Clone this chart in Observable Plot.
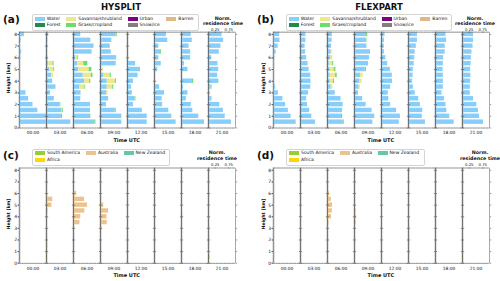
<!DOCTYPE html>
<html><head><meta charset="utf-8">
<script src="https://cdn.jsdelivr.net/npm/d3@7"></script>
<script src="https://cdn.jsdelivr.net/npm/@observablehq/plot@0.6"></script>
<style>
body{margin:0;background:#fff;}
#fig{position:relative;width:500px;height:281px;overflow:hidden;font-family:"DejaVu Sans",sans-serif;color:#111;}
.abs{position:absolute;white-space:nowrap;line-height:1;}
.box{position:absolute;border:0.6px solid #d4d4d4;border-radius:2px;background:#fff;}
.sw{position:absolute;width:10px;height:3.7px;}
svg{position:absolute;}
</style></head><body><div id="fig"></div>
<script>
const times = ["00:00","03:00","06:00","09:00","12:00","15:00","18:00","21:00"];
const heights = [0.5,1,1.5,2,2.5,3,3.5,4,4.5,5,5.5,6,6.5,7,7.5,8];
const yTicks = [0,1,2,3,4,5,6,7,8];
const normTicks = [0.25,0.75];

const landTypes = ["Water","Forest","Savanna/shrubland","Grass/cropland","Urban","Snow/ice","Barren"];
const landColors = ["#87cefa","#1f8a4c","#f0e68c","#6cdc6c","#800080","#808080","#deb887"];
const regionNames = ["South America","Africa","Australia","New Zealand"];
const regionColors = ["#9acd32","#ffd700","#ebc38e","#66c7a3"];

// HYSPLIT water, one array per time, heights 0.5 -> 8 km
const hysplitWater = [
  [1.0,1.0,0.68,0.5,0.34,0.24,0,0,0,0,0,0.05,0.08,0,0.06,0.18],
  [0.9,0.55,0.56,0.5,0.29,0.15,0.35,0.23,0.2,0.12,0.08,0.03,0.04,0.04,0.05,0.08],
  [0.79,0.6,0.63,0.63,0.27,0.28,0.24,0.42,0.36,0.2,0.16,0.08,0.69,0.76,0.64,0.27],
  [0.79,0.79,0.55,0.22,0.3,0.23,0.25,0.25,0.13,0.04,0.58,0.6,0.4,0.36,0.42,0.58],
  [0.73,0.73,0.55,0.22,0.28,0.18,0.15,0.22,0.39,0.48,0.3,0,0,0,0,0],
  [0.8,0.64,0.53,0.3,0.28,0.37,0.19,0,0,0.12,0.25,0.16,0.23,0.16,0.49,0.44],
  [0.85,0.64,0.42,0.36,0.18,0.24,0.07,0.4,0,0.24,0.11,0.34,0.34,0.28,0.4,0.36],
  [0.85,0.62,0.55,0.42,0.13,0,0.1,0.34,0.34,0.38,0.35,0.12,0.4,0.46,0.56,0.5]
];
// [time, height km, value]
const hysplitSavanna = [
  ["03:00",1.5,0.02],["03:00",4.5,0.06],["03:00",5,0.15],["03:00",5.5,0.16],
  ["06:00",3.5,0.18],["06:00",4,0.18],["06:00",4.5,0.3],["06:00",5,0.38],["06:00",5.5,0.22],["06:00",6,0.08],
  ["09:00",3,0.05],["09:00",3.5,0.2],["09:00",4,0.3],["09:00",4.5,0.23],["09:00",5,0.06]
];
const hysplitGrass = [
  ["03:00",1,0.04],["03:00",1.5,0.04],["03:00",2,0.03],["03:00",5,0.03],["03:00",5.5,0.04],["03:00",6,0.02],
  ["06:00",0.5,0.04],["06:00",1,0.04],["06:00",3.5,0.03],["06:00",4,0.04],["06:00",4.5,0.06],["06:00",5,0.1],["06:00",5.5,0.15],["06:00",6,0.03],
  ["09:00",1.5,0.03],["09:00",3.5,0.04],["09:00",4,0.04],["09:00",4.5,0.04],["09:00",8,0.04],
  ["12:00",2.5,0.03],["15:00",6.5,0.03],["18:00",4,0.05],["21:00",3.5,0.03],["21:00",4,0.04]
];

const flexpartWater = [
  [0.84,0.65,0.55,0.45,0.35,0.18,0.08,0.03,0,0,0,0.05,0.1,0.17,0.24,0.23],
  [0.56,0.42,0.34,0.26,0.23,0.3,0.38,0.39,0.38,0.32,0.28,0.23,0.19,0.17,0.2,0.2],
  [0.58,0.52,0.56,0.58,0.5,0.29,0.14,0.1,0.1,0.1,0.07,0.11,0.14,0.15,0.17,0.18],
  [0.68,0.75,0.65,0.43,0.3,0.15,0.17,0.2,0.22,0.4,0.52,0.56,0.56,0.46,0.42,0.45],
  [0.66,0.7,0.56,0.34,0.27,0.25,0.34,0.41,0.4,0.33,0.23,0.16,0.11,0.1,0.11,0.13],
  [0.63,0.51,0.53,0.44,0.38,0.25,0.18,0.15,0.17,0.18,0.21,0.23,0.25,0.29,0.33,0.33],
  [0.69,0.53,0.42,0.39,0.33,0.24,0.29,0.29,0.29,0.28,0.29,0.3,0.36,0.36,0.41,0.39],
  [0.78,0.63,0.59,0.53,0.41,0.29,0.29,0.3,0.31,0.3,0.32,0.33,0.35,0.39,0.41,0.41]
];
const flexpartSavanna = [
  ["03:00",5.5,0.03],["06:00",3.5,0.06],["06:00",4,0.12],["06:00",4.5,0.2],["06:00",5,0.15],["06:00",5.5,0.12],["06:00",6,0.08],["06:00",6.5,0.03],
  ["09:00",3.5,0.05],["09:00",4,0.08],["09:00",4.5,0.1]
];
const flexpartGrass = [
  ["06:00",0.5,0.04],["06:00",1,0.04],["06:00",4,0.04],["06:00",4.5,0.06],["06:00",5,0.06],["06:00",5.5,0.04],
  ["09:00",5,0.04],["09:00",6.5,0.03],["09:00",7.5,0.04],["09:00",8,0.04]
];

const hysplitSouthAmerica = [["00:00",0.5,0.02],["03:00",0.5,0.03],["03:00",1,0.02],["18:00",4,0.04],["21:00",0.5,0.05]];
const hysplitAustralia = [
  ["03:00",1.5,0.05],["03:00",4.5,0.06],["03:00",5,0.2],["03:00",5.5,0.23],
  ["06:00",3.5,0.24],["06:00",4,0.27],["06:00",4.5,0.42],["06:00",5,0.52],["06:00",5.5,0.41],["06:00",6,0.12],
  ["09:00",3,0.06],["09:00",3.5,0.25],["09:00",4,0.24],["09:00",4.5,0.3],["09:00",5,0.12]
];
const hysplitNewZealand = [["09:00",7.5,0.02]];
const flexpartSouthAmerica = [["09:00",8,0.02],["21:00",0.5,0.03]];
const flexpartAustralia = [
  ["06:00",3.5,0.06],["06:00",4,0.15],["06:00",4.5,0.18],["06:00",5,0.19],["06:00",5.5,0.14],["06:00",6,0.08],["06:00",6.5,0.04],
  ["09:00",3,0.02],["09:00",3.5,0.07],["09:00",4,0.08],["09:00",4.5,0.07]
];
const flexpartNewZealand = [["09:00",7.5,0.02]];

const HALF = 0.19, Y_TOP = 8.2;
function denseRows(arr, cat) {
  const out = [];
  arr.forEach((col, i) => col.forEach((v, j) => { if (v > 0) out.push({t: times[i], lo: heights[j] - HALF, hi: heights[j] + HALF, c: cat, v}); }));
  return out;
}
function sparseRows(arr, cat) {
  return arr.map(([t, h, v]) => ({t, lo: h - HALF, hi: h + HALF, c: cat, v}));
}

const fig = document.getElementById("fig");

function panel(rows, cats, colors, o) {
  const svg = Plot.plot({
    width: 250, height: o.h,
    marginLeft: 16.7, marginRight: 13.3, marginTop: o.mt, marginBottom: o.mb,
    style: {fontFamily: "'DejaVu Sans', sans-serif", background: "transparent", overflow: "visible", color: "#111"},
    x: {domain: [0, 1], axis: null},
    y: {domain: [0, Y_TOP], axis: null},
    fx: {domain: times, padding: 0, axis: null, label: null},
    color: {domain: cats, range: colors},
    marks: [
      // spine halo at the zero origin of every time facet
      Plot.ruleX(times, {fx: (d) => d, x: () => 0, stroke: "#d0d0d0", strokeWidth: 2.2}),
      Plot.rectX(rows, Plot.stackX({x: "v", y1: "lo", y2: "hi", fx: "t", fill: "c"})),
      Plot.ruleY([0, Y_TOP], {stroke: "#aaa", strokeWidth: 1.1, strokeDasharray: "0.5,1.1"}),
      Plot.frame({stroke: "#555", strokeWidth: 0.5}),
      Plot.axisY({ticks: yTicks, tickSize: 1.5, tickPadding: 0.8, fontSize: 4.5, label: null, tickFormat: d3.format("d"), strokeWidth: 0.5}),
      Plot.axisY({ticks: yTicks, tickSize: 1.2, tickFormat: () => "", label: null, facetAnchor: null, strokeWidth: 0.5, stroke: "#333"}),
      Plot.axisY({anchor: "right", ticks: yTicks, tickSize: 1.2, tickFormat: () => "", label: null, facetAnchor: null, strokeWidth: 0.5, stroke: "#333"}),
      Plot.axisFx({anchor: "bottom", tickSize: 0, tickPadding: 3.2, fontSize: 4.4, label: null}),
      Plot.axisX(normTicks, {anchor: "top", fx: () => times[times.length - 1], tickSize: 1, tickPadding: 0.6, fontSize: 3.8, label: null, tickFormat: d3.format(".2f"), strokeWidth: 0.5})
    ]
  });
  svg.style.left = o.left + "px";
  svg.style.top = o.top + "px";
  fig.appendChild(svg);
}

function txt(s, x, y, size, o = {}) {
  const d = document.createElement("div");
  d.className = "abs";
  d.textContent = s;
  d.style.left = x + "px";
  d.style.top = y + "px";
  d.style.fontSize = size + "px";
  if (o.bold) d.style.fontWeight = "bold";
  const ax = o.anchor === "start" ? "0" : "-50%";
  d.style.transform = `translate(${ax},-50%)` + (o.rotate ? ` rotate(${o.rotate}deg)` : "");
  fig.appendChild(d);
}

function legend(x, y, w, h, names, colors, cols, rows, colOffsets, rowYs) {
  const b = document.createElement("div");
  b.className = "box";
  b.style.left = x + "px"; b.style.top = y + "px"; b.style.width = w + "px"; b.style.height = h + "px";
  fig.appendChild(b);
  names.forEach((n, i) => {
    const cx = x + colOffsets[cols[i]], cy = rowYs[rows[i]];
    const s = document.createElement("div");
    s.className = "sw";
    s.style.left = cx + "px"; s.style.top = (cy - 1.85) + "px"; s.style.background = colors[i];
    fig.appendChild(s);
    txt(n, cx + 12, cy, 4.5, {anchor: "start"});
  });
}

const hyRows = [...denseRows(hysplitWater, "Water"), ...sparseRows(hysplitSavanna, "Savanna/shrubland"), ...sparseRows(hysplitGrass, "Grass/cropland")];
const flRows = [...denseRows(flexpartWater, "Water"), ...sparseRows(flexpartSavanna, "Savanna/shrubland"), ...sparseRows(flexpartGrass, "Grass/cropland")];
const hyReg = [...sparseRows(hysplitSouthAmerica, "South America"), ...sparseRows(hysplitAustralia, "Australia"), ...sparseRows(hysplitNewZealand, "New Zealand")];
const flReg = [...sparseRows(flexpartSouthAmerica, "South America"), ...sparseRows(flexpartAustralia, "Australia"), ...sparseRows(flexpartNewZealand, "New Zealand")];

panel(hyRows, landTypes, landColors, {left: 0, top: 0, h: 145, mt: 31.6, mb: 17.5});
panel(flRows, landTypes, landColors, {left: 254.3, top: 0, h: 145, mt: 31.6, mb: 17.5});
panel(hyReg, regionNames, regionColors, {left: 0, top: 140, h: 141, mt: 27.5, mb: 18.3});
panel(flReg, regionNames, regionColors, {left: 254.3, top: 140, h: 141, mt: 27.5, mb: 18.3});

// titles and labels
txt("HYSPLIT", 121, 6.8, 8.5, {bold: true});
txt("FLEXPART", 379, 6.8, 8.5, {bold: true});
[["(a)", 3, 18.5], ["(b)", 257, 18.5], ["(c)", 3, 155], ["(d)", 257, 155]].forEach(([s, x, y]) => txt(s, x, y, 10.5, {bold: true, anchor: "start"}));
[[126.7, 139.8], [380.9, 139.8], [126.7, 275], [380.9, 275]].forEach(([x, y]) => txt("Time UTC", x, y, 5, {bold: true}));
[[9.3, 78], [263.6, 78], [9.3, 214], [263.6, 214]].forEach(([x, y]) => txt("Height [km]", x, y, 4.6, {bold: true, rotate: -90}));
[[223, 18.7, 24], [475, 18.7, 24], [217, 153.3, 159], [480, 153.3, 159]].forEach(([x, y1, y2]) => {
  txt("Norm.", x, y1, 4.8, {bold: true});
  txt("residence time", x, y2, 4.8, {bold: true});
});

// legends
const landCols = [0, 0, 1, 1, 2, 2, 3], landRowsIdx = [0, 1, 0, 1, 0, 1, 0];
const landOff = [2.8, 34.3, 95.5, 134.3];
legend(32, 14, 165, 15, landTypes, landColors, landCols, landRowsIdx, landOff, [18.7, 25]);
legend(286, 14, 164, 15, landTypes, landColors, landCols, landRowsIdx, landOff, [18.7, 25]);
const regCols = [0, 0, 1, 2], regRowsIdx = [0, 1, 0, 0];
const regOff = [3, 54, 91.5];
legend(32, 149, 136, 15, regionNames, regionColors, regCols, regRowsIdx, regOff, [153.3, 160]);
legend(286, 149, 137, 15, regionNames, regionColors, regCols, regRowsIdx, regOff, [153.3, 160]);
</script></body></html>
